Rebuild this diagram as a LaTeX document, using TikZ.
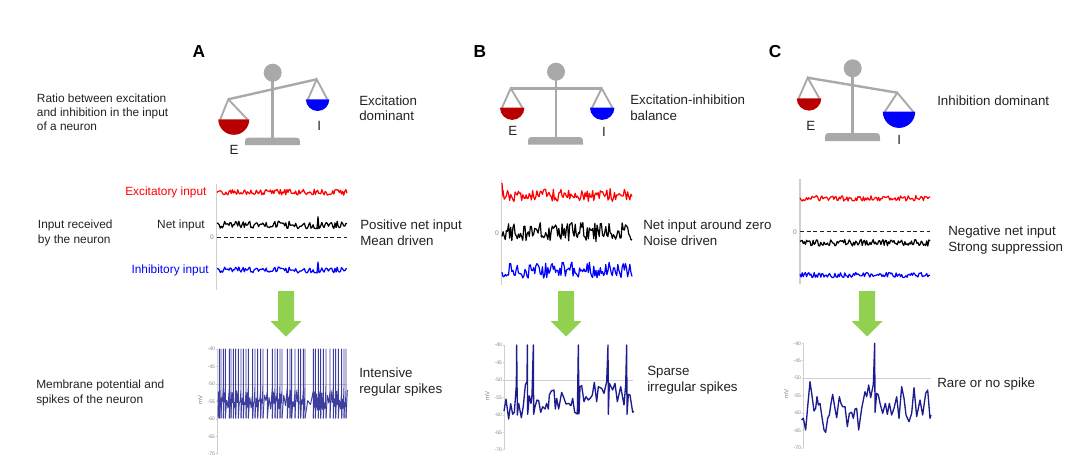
\documentclass[tikz,border=0pt]{standalone}
\usepackage{fontspec}
\setmainfont{Liberation Sans}
\definecolor{scalegray}{HTML}{A9A9A9}
\definecolor{axisgray}{HTML}{CFCFCF}
\definecolor{tickgray}{HTML}{858585}
\definecolor{panred}{HTML}{B80000}
\definecolor{inpred}{HTML}{FF0000}
\definecolor{inpblue}{HTML}{0000FF}
\definecolor{membrane}{HTML}{1C1C8E}
\definecolor{flowgreen}{HTML}{92D050}
\definecolor{inktext}{HTML}{222222}
\usetikzlibrary{calc}
\tikzset{
  beam/.style={draw=scalegray, line width=1.8pt},
  hanger/.style={draw=scalegray, line width=1.4pt},
  tracks/.style={draw=axisgray, line width=0.9pt},
  noisetrace/.style={line width=0.9pt, line join=round},
  vmtrace/.style={draw=membrane, line width=1pt, line join=round},
  spiketrace/.style={draw=membrane!85, line width=0.7pt, line join=round},
  sidetext/.style={anchor=west, align=left, text=inktext, inner sep=0pt, font=\fontsize{10}{11.8}\selectfont},
  lefttext/.style={anchor=west, align=left, text=inktext, inner sep=0pt, font=\fontsize{8.9}{10.7}\selectfont},
  inplabel/.style={anchor=east, inner sep=0pt, font=\fontsize{8.9}{10.7}\selectfont},
  ticklabel/.style={anchor=east, inner sep=0pt, text=tickgray, font=\fontsize{3.8}{4}\selectfont}
}
\begin{document}
\begin{tikzpicture}[x=0.75pt, y=-0.75pt]
  \useasboundingbox (0,0) rectangle (1080,465);
  % balances
  \foreach \panel/\px/\py/\bx/\bya/\byb/\lx/\ly/\rx/\ry/\lpan/\lpy/\lrad/\rpan/\rpy/\rrad/\ex/\ey/\ix/\iy/\hx in {
    A/272.7/72.7/245/137.7/145/228.3/99.3/316.7/79.3/233.8/119.3/15.5/317.6/99.3/11.7/234/150/319.3/125.7/199,
    B/556/71.7/528/137/144.5/510.7/88.3/601.7/88.3/512.2/107.7/12.2/602.2/107.7/12.2/512.7/131/604/131.7/480,
    C/852.7/68.3/825/133/141/807.7/77.7/897.3/92.7/809/98.3/12.3/899/111.7/16.2/810.7/126/899.3/140/775} {
    \draw[beam, line width=2.2pt] (\px,\py) -- (\px,\bya+1);
    \fill[scalegray] (\bx,\byb) .. controls (\bx,\bya) and (\bx,\bya) .. (\bx+7,\bya) -- (\bx+48,\bya) .. controls (\bx+55,\bya) and (\bx+55,\bya) .. (\bx+55,\byb) -- cycle;
    \fill[scalegray] (\px,\py) circle[radius=6.75pt];
    \draw[beam] (\lx,\ly) -- (\rx,\ry);
    \draw[hanger] (\lpan-\lrad+2,\lpy) -- (\lx,\ly) -- (\lpan+\lrad-2,\lpy);
    \draw[hanger] (\rpan-\rrad+2,\rpy) -- (\rx,\ry) -- (\rpan+\rrad-2,\rpy);
    \fill[panred] (\lpan-\lrad,\lpy) arc[start angle=180, end angle=360, radius=\lrad*0.75pt];
    \fill[inpblue] (\rpan-\rrad,\rpy) arc[start angle=180, end angle=360, radius=\rrad*0.75pt];
    \node[text=inktext, font=\fontsize{10}{12}\selectfont] (e\panel) at (\ex,\ey) {E};
    \node[text=inktext, font=\fontsize{10}{12}\selectfont] (i\panel) at (\ix,\iy) {I};
    \node[font=\fontsize{13}{15}\selectfont\bfseries] (head\panel) at (\hx,52) {\panel};
  }
  % input traces
  \foreach \panel/\ax/\ya/\yb in {A/216.7/184/290, B/501.7/180/285, C/800/179/284}
    \draw[tracks] (\ax,\ya) -- (\ax,\yb);
  \draw[densely dashed, line width=0.5pt, draw=inktext] (217,237) -- (347,237);
  \draw[densely dashed, line width=0.5pt, draw=inktext] (800,231.7) -- (930,231.7);
  \foreach \xa/\xb/\yc/\amp/\col/\seed in {
    217/347/192.3/3/inpred/11, 217/347/225/3.8/black/23, 217/347/270/3/inpblue/23,
    502/632/195/6.5/inpred/31, 502/632/232/9.5/black/37, 502/632/270/8/inpblue/41,
    800/930/198.3/2.8/inpred/43, 800/930/242.7/3.4/black/47, 800/930/275/2.6/inpblue/53} {
    \pgfmathsetseed{\seed}
    \draw[noisetrace, draw=\col] plot[variable=\t, domain=\xa:\xb, samples=120] (\t, {\yc+\amp*rand});
  }
  \draw[noisetrace, draw=inpred] (502,183) -- (503,197);
  \draw[noisetrace, draw=black] (317,228) -- (318,216.7) -- (319,229);
  \draw[noisetrace, draw=inpblue] (317,272) -- (318,262) -- (319,272);
  \node[ticklabel, font=\fontsize{5}{6}\selectfont] (zeroA) at (214,237.5) {0};
  \node[ticklabel, font=\fontsize{5}{6}\selectfont] (zeroB) at (499,233) {0};
  \node[ticklabel, font=\fontsize{5}{6}\selectfont] (zeroC) at (797,232) {0};
  \node[inplabel, text=inpred] (excA) at (206.7,192) {Excitatory input};
  \node[inplabel, text=inktext] (netA) at (205,225) {Net input};
  \node[inplabel, text=inpblue] (inhA) at (209,270) {Inhibitory input};
  % green arrows
  \foreach \cx in {286, 566, 867}
    \fill[flowgreen] (\cx-8,291) -- (\cx+8,291) -- (\cx+8,321) -- (\cx+15.5,321) -- (\cx,336.5) -- (\cx-15.5,321) -- (\cx-8,321) -- cycle;
  % membrane axes
  \foreach \panel/\ax/\ytop/\xe/\yl in {A/217.3/349/347/200, B/504.3/345/633/488, C/803.3/343.3/931/785} {
    \pgfmathsetmacro{\yend}{\ytop+104.7}
    \pgfmathsetmacro{\ythr}{\ytop+34.9}
    \draw[tracks, line width=0.6pt] (\ax,\ytop) -- (\ax,\yend);
    \draw[draw=axisgray, line width=0.6pt] (\ax,\ythr) -- (\xe,\ythr);
    \foreach \i/\v in {0/40,1/45,2/50,3/55,4/60,5/65,6/70} {
      \pgfmathsetmacro{\ty}{\ytop+\i*17.45}
      \draw[draw=axisgray, line width=0.4pt] (\ax-1.5,\ty) -- (\ax,\ty);
      \node[ticklabel] (tick\panel\v) at (\ax-2,\ty) {-\v};
    }
    \pgfmathsetmacro{\ymv}{\ytop+51}
    \node[rotate=90, text=tickgray, inner sep=0pt, font=\fontsize{4.6}{5}\selectfont] (mv\panel) at (\ax-17,\ymv) {mV};
  }
  % panel A spikes
  \begin{scope}[shift={(190,335)}, x=0.25pt, y=-0.25pt]
    \pgfmathsetseed{7}
    \foreach \s [remember=\s as \prev (initially 84)] in {88,93,100,106,118,123,130,137,145,153,160,168,175,188,195,203,212,219,232,247,255,262,270,276,292,300,305,315,325,332,340,345,370,376,385,392,400,408,420,430,437,445,455,462,468}
      \draw[spiketrace] (\prev,250) -- ({\prev+(\s-\prev)*0.33},{165+rnd*40}) -- ({\prev+(\s-\prev)*0.66},{195+rnd*30}) -- (\s,{150+rnd*20}) -- (\s,42) -- (\s,250);
    \draw[spiketrace] (84,200) -- (88,170);
    \draw[spiketrace] (468,250) -- (472,165);
  \end{scope}
  % panel B trace
  \begin{scope}[shift={(480,335)}, x=0.25pt, y=-0.25pt]
    \draw[vmtrace] (72,228) -- (78,192) -- (86,252) -- (92,206) -- (98,238) -- (103,232) -- (109,150) -- (110,30) -- (112,240) -- (116,205) -- (124,248) -- (130,212) -- (136,150) -- (141,140) -- (142,30) -- (143,238) -- (148,183) -- (153,205) -- (156,180) -- (160,30) -- (161,238) -- (165,215) -- (171,195) -- (176,197) -- (182,232) -- (188,215) -- (195,222) -- (200,205) -- (205,222) -- (208,180) -- (214,168) -- (222,165) -- (226,222) -- (230,190) -- (236,222) -- (245,172) -- (252,190) -- (258,207) -- (266,205) -- (273,212) -- (278,190) -- (284,232) -- (292,237) -- (295,30) -- (297,237) -- (300,155) -- (305,152) -- (312,200) -- (318,185) -- (325,195) -- (332,188) -- (337,180) -- (343,142) -- (350,200) -- (355,155) -- (365,160) -- (372,175) -- (380,140) -- (384,30) -- (385,238) -- (388,145) -- (398,165) -- (405,145) -- (412,200) -- (422,155) -- (432,210) -- (437,150) -- (440,30) -- (441,238) -- (445,178) -- (450,180) -- (458,232) -- (461,228);
  \end{scope}
  % panel C trace
  \begin{scope}[shift={(760,335)}, x=0.25pt, y=-0.25pt]
    \draw[vmtrace] (125,255) -- (130,250) -- (137,285) -- (143,215) -- (150,140) -- (155,175) -- (162,228) -- (167,220) -- (171,185) -- (175,210) -- (180,205) -- (185,240) -- (192,285) -- (197,292) -- (203,250) -- (208,240) -- (213,205) -- (218,178) -- (224,215) -- (230,248) -- (238,185) -- (243,205) -- (248,215) -- (255,215) -- (262,275) -- (268,235) -- (275,232) -- (280,250) -- (285,222) -- (290,220) -- (296,285) -- (305,220) -- (310,195) -- (315,170) -- (320,185) -- (326,150) -- (332,188) -- (340,148) -- (344,25) -- (345,232) -- (350,175) -- (355,180) -- (360,205) -- (368,235) -- (376,205) -- (382,238) -- (388,205) -- (395,240) -- (402,220) -- (410,185) -- (417,250) -- (425,155) -- (432,190) -- (438,240) -- (447,260) -- (455,235) -- (462,158) -- (470,245) -- (480,195) -- (488,240) -- (497,175) -- (503,165) -- (510,250) -- (513,240);
  \end{scope}
  % texts
  \node[lefttext] (ratio) at (36.7,112.3) {Ratio between excitation\\and inhibition in the input\\of a neuron};
  \node[lefttext] (received) at (37.7,233) {Input received\\by the neuron};
  \node[lefttext] (potential) at (36,393) {Membrane potential and\\spikes of the neuron};
  \foreach \nm/\tx/\ty/\body in {
    domA/359/108.3/{Excitation\\dominant},
    domB/630/107.8/{Excitation-inhibition\\balance},
    domC/937/101/{Inhibition dominant},
    netA/360/233/{Positive net input\\Mean driven},
    netB/643/233/{Net input around zero\\Noise driven},
    netC/948/240/{Negative net input\\Strong suppression},
    spkA/359/382/{Intensive\\regular spikes},
    spkB/647/380.5/{Sparse\\irregular spikes},
    spkC/937/384/{Rare or no spike}}
    \node[sidetext] (\nm) at (\tx,\ty) {\body};
\end{tikzpicture}
\end{document}
